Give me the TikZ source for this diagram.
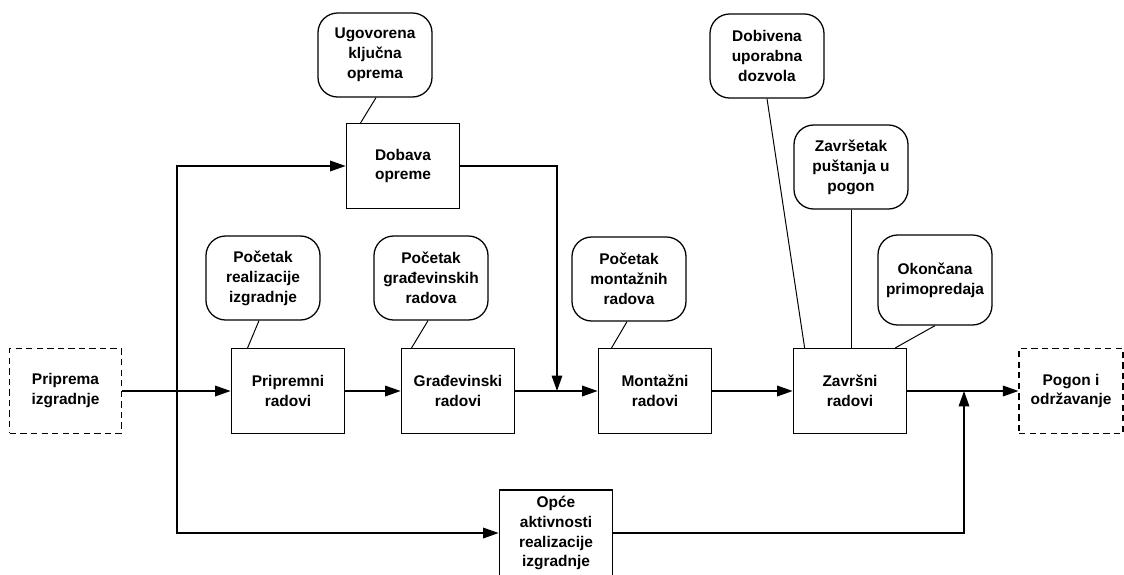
\documentclass[tikz,border=0pt]{standalone}
\usepackage{fontspec}
\setmainfont{Liberation Sans}
\usetikzlibrary{positioning,calc}
\usetikzlibrary{arrows.meta}
\tikzset{
  txt/.style={align=center,font=\bfseries\fontsize{11}{14.2}\selectfont,inner sep=2pt},
  box/.style={txt,draw=black,line width=1.1pt,minimum width=2.83cm,minimum height=2.12cm},
  dbox/.style={box,line width=0.8pt,dash pattern=on 4.5pt off 3pt},
  note/.style={txt,draw=black,line width=0.9pt,rounded corners=14pt,
    minimum width=2.85cm,minimum height=2.1cm},
  link/.style={draw=black,line width=0.7pt},
  flow/.style={draw=black,line width=1.1pt,-{Triangle[length=11pt,width=7.5pt]}},
}

\begin{document}
\begin{tikzpicture}[x=0.025cm,y=-0.025cm]
    \useasboundingbox (0,0) rectangle (1124,574);
    % main chain
    \node[dbox,minimum width=2.78cm] (pripr) at (65.5,391) {Priprema\\izgradnje};
    \node[box] (prip) at (288,391) {Pripremni\\radovi};
    \node[box] (grad) at (458,391) {Građevinski\\radovi};
    \node[box] (mont) at (655,391) {Montažni\\radovi};
    \node[box] (zavr) at (850,391) {Završni\\radovi};
    \node[dbox,minimum width=2.6cm] (pogon) at (1071,391) {Pogon i\\održavanje};
    % side branches
    \node[box] (dobava) at (403,166) {Dobava\\opreme};
    \node[box,minimum height=2.15cm] (opce) at (556,533) {Opće\\aktivnosti\\realizacije\\izgradnje};
    % milestones
    \node[note] (ugov) at (375,55) {Ugovorena\\ključna\\oprema};
    \node[note] (pocreal) at (263,278) {Početak\\realizacije\\izgradnje};
    \node[note] (pocgrad) at (431,278) {Početak\\građevinskih\\radova};
    \node[note] (pocmont) at (629,279) {Početak\\montažnih\\radova};
    \node[note] (dobiv) at (767,56) {Dobivena\\uporabna\\dozvola};
    \node[note] (zavrs) at (851,167) {Završetak\\puštanja u\\pogon};
    \node[note,minimum height=2.25cm] (okon) at (935,280) {Okončana\\primopredaja};
    \coordinate (split) at (177,391);
    \coordinate (join1) at (557,391);
    \coordinate (join2) at (964,391);

    \draw[flow] (pripr.east) -- (prip.west);
    \draw[flow] (split) |- (dobava.west);
    \draw[flow] (split) |- (opce.west);
    \draw[flow] (prip.east) -- (grad.west);
    \draw[flow] (grad.east) -- (mont.west);
    \draw[flow] (dobava.east) -| (join1);
    \draw[flow] (mont.east) -- (zavr.west);
    \draw[flow] (zavr.east) -- (pogon.west);
    \draw[flow] (opce.east) -| (join2);

    \draw[link] ($(ugov.south)+(1,0)$) -- ($(dobava.north west)+(15,0)$);
    \draw[link] ($(pocreal.south)+(-4,0)$) -- ($(prip.north west)+(17,0)$);
    \draw[link] ($(pocgrad.south)+(-3,0)$) -- ($(grad.north west)+(11,0)$);
    \draw[link] ($(pocmont.south)+(-2,0)$) -- ($(mont.north west)+(14,0)$);
    \draw[link] (dobiv.south) -- ($(zavr.north west)+(12,0)$);
    \draw[link] (zavrs.south) -- (zavrs.south |- zavr.north);
    \draw[link] (okon.south) -- ($(zavr.north east)+(-12,0)$);
  \end{tikzpicture}
\end{document}
